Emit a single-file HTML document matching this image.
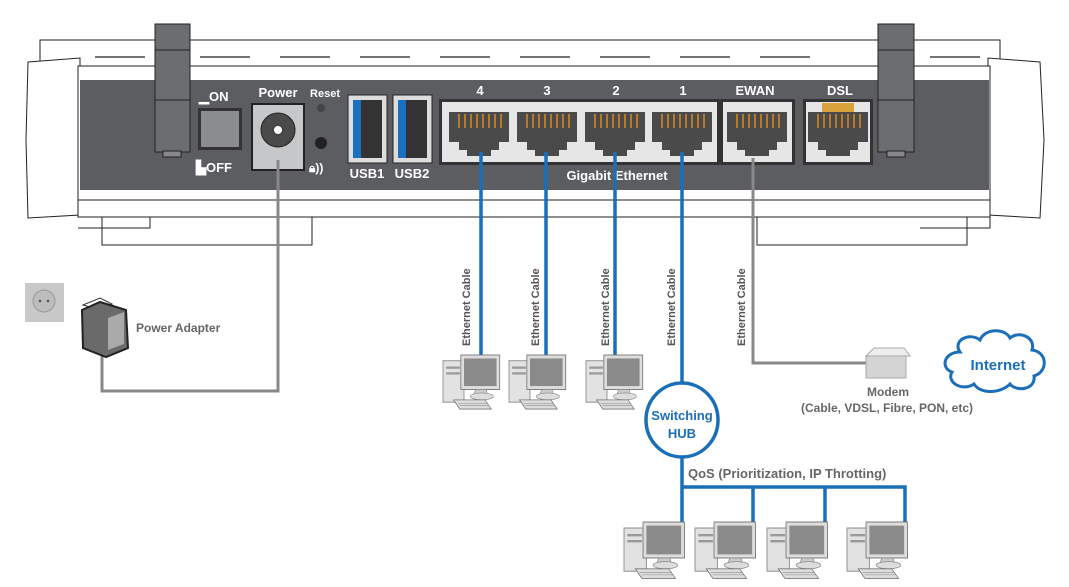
<!DOCTYPE html>
<html><head><meta charset="utf-8"><style>
html,body{margin:0;padding:0;background:#fff}
svg{display:block}
text{font-family:"Liberation Sans",Arial,sans-serif;font-weight:bold}
</style></head><body>
<svg width="1069" height="587" viewBox="0 0 1069 587" xmlns="http://www.w3.org/2000/svg">
<defs>
<g id="pc">
  <rect x="0" y="5" width="20" height="36" fill="#e2e2e2" stroke="#888" stroke-width="0.8"/>
  <rect x="3" y="10" width="13" height="2" fill="#999"/>
  <rect x="3" y="15" width="13" height="2" fill="#999"/>
  <rect x="17" y="0" width="37" height="30" fill="#ddd" stroke="#777" stroke-width="0.8"/>
  <rect x="20" y="3" width="31" height="24" fill="#8a8a8a"/>
  <path d="M31 30 L41 30 L43 36 L29 36 Z" fill="#ccc" stroke="#888" stroke-width="0.6"/>
  <ellipse cx="37" cy="36" rx="11" ry="3" fill="#ddd" stroke="#888" stroke-width="0.6"/>
  <path d="M10 39 L40 39 L46 47 L16 47 Z" fill="#ddd" stroke="#777" stroke-width="0.7"/>
  <path d="M14 42 L42 42 M16 44 L44 44" stroke="#999" stroke-width="0.6"/>
</g>
<g id="rj">
  <path d="M0 0 H60 V30 H50 V38 H42 V44 H18 V38 H10 V30 H0 Z" fill="#4a4a4a"/>
  <g fill="#b57a2e">
    <rect x="9" y="2" width="2" height="14"/><rect x="15" y="2" width="2" height="14"/>
    <rect x="21" y="2" width="2" height="14"/><rect x="27" y="2" width="2" height="14"/>
    <rect x="33" y="2" width="2" height="14"/><rect x="39" y="2" width="2" height="14"/>
    <rect x="45" y="2" width="2" height="14"/><rect x="51" y="2" width="2" height="14"/>
  </g>
</g>
</defs>

<!-- router body -->
<g fill="none" stroke="#222" stroke-width="1">
  <rect x="40" y="40" width="960" height="28" fill="#fff"/>
  <path d="M28 62 L80 58 L80 215 L28 218 L26 140 Z" fill="#fff"/>
  <path d="M1040 62 L988 58 L988 215 L1040 218 L1044 140 Z" fill="#fff"/>
  <rect x="78" y="66" width="912" height="151" fill="#fff"/>
  <path d="M78 200 H990"/>
  <rect x="102" y="217" width="210" height="28" fill="#fff"/>
  <rect x="757" y="217" width="210" height="28" fill="#fff"/>
  <path d="M78 217 H150 V228 H78 M920 217 H990 V228 H920"/>
  <path d="M95 57 h50 M200 57 h50 M280 57 h50 M360 57 h50 M440 57 h50 M520 57 h50 M600 57 h50 M680 57 h50 M760 57 h50 M930 57 h50" stroke-width="1.2"/>
</g>
<rect x="80" y="80" width="909" height="110" fill="#5b5d60"/>

<!-- antennas -->
<rect x="155" y="24" width="35" height="128" fill="#6b6d70" stroke="#222"/>
<path d="M155 50 H190 M155 100 H190" stroke="#222"/>
<rect x="163" y="151" width="18" height="6" fill="#888" stroke="#222"/>
<rect x="878" y="24" width="36" height="128" fill="#6b6d70" stroke="#222"/>
<path d="M878 50 H914 M878 100 H914" stroke="#222"/>
<rect x="887" y="151" width="18" height="6" fill="#888" stroke="#222"/>

<!-- switch -->
<text x="199" y="101" fill="#fff" font-size="13">▁ON</text>
<rect x="198" y="108" width="44" height="42" fill="#333"/>
<rect x="201" y="111" width="38" height="36" fill="#8a8c8f"/>
<text x="196" y="172" fill="#fff" font-size="13">▙OFF</text>
<!-- power -->
<text x="278" y="97" fill="#fff" font-size="13" text-anchor="middle">Power</text>
<rect x="252" y="104" width="52" height="66" fill="#c6c7c9" stroke="#222" stroke-width="2"/>
<circle cx="278" cy="130" r="17" fill="#4a4a4a" stroke="#222"/>
<circle cx="278" cy="130" r="5" fill="#fff" stroke="#444" stroke-width="2"/>
<text x="325" y="97" fill="#fff" font-size="11" text-anchor="middle">Reset</text>
<circle cx="321" cy="108" r="4" fill="#444"/>
<circle cx="321" cy="143" r="6" fill="#222"/>
<text x="309" y="172" fill="#fff" font-size="12">🔒︎))</text>
<!-- USB -->
<rect x="348" y="95" width="39" height="68" fill="#ddd" stroke="#222"/>
<rect x="353" y="100" width="29" height="58" fill="#333"/><rect x="353" y="100" width="8" height="58" fill="#1a6fc0"/>
<rect x="393" y="95" width="39" height="68" fill="#ddd" stroke="#222"/>
<rect x="398" y="100" width="29" height="58" fill="#333"/><rect x="398" y="100" width="8" height="58" fill="#1a6fc0"/>
<text x="367" y="178" fill="#fff" font-size="13" text-anchor="middle">USB1</text>
<text x="412" y="178" fill="#fff" font-size="13" text-anchor="middle">USB2</text>
<!-- Ethernet -->
<rect x="439" y="99" width="281" height="66" fill="#333"/>
<rect x="442" y="102" width="275" height="60" fill="#e6e6e6"/>
<use href="#rj" x="449" y="112"/><use href="#rj" x="517" y="112"/><use href="#rj" x="585" y="112"/><use href="#rj" x="652" y="112"/>
<rect x="720" y="99" width="75" height="66" fill="#333"/>
<rect x="723" y="102" width="69" height="60" fill="#e6e6e6"/>
<use href="#rj" x="727" y="112"/>
<rect x="803" y="99" width="70" height="66" fill="#333"/>
<rect x="806" y="102" width="64" height="60" fill="#e6e6e6"/>
<rect x="822" y="103" width="32" height="10" fill="#d9a23a"/>
<use href="#rj" x="808" y="112"/>
<g fill="#fff" font-size="13" text-anchor="middle">
<text x="480" y="95">4</text><text x="547" y="95">3</text><text x="616" y="95">2</text><text x="683" y="95">1</text>
<text x="755" y="95">EWAN</text><text x="840" y="95">DSL</text>
<text x="617" y="180">Gigabit Ethernet</text>
</g>

<!-- cables -->
<g stroke="#1a6fb8" stroke-width="3.5" fill="none">
  <path d="M481 152 V357 M546 152 V357 M615 152 V357 M682 152 V384"/>
  <path d="M682 456 V525 M682 487 H905 V525 M753 487 V525 M825 487 V525"/>
</g>
<ellipse cx="682" cy="420" rx="36" ry="37" fill="#fff" stroke="#1a6fb8" stroke-width="3.5"/>
<text x="682" y="420" fill="#1a6fb8" font-size="13" text-anchor="middle">Switching</text>
<text x="682" y="438" fill="#1a6fb8" font-size="13" text-anchor="middle">HUB</text>
<path d="M753 158 V363 H868" stroke="#888" stroke-width="3" fill="none"/>
<path d="M278 160 V391 H102 V355" stroke="#888" stroke-width="3" fill="none"/>

<g fill="#555" font-size="11" font-weight="bold">
<text transform="translate(470,346) rotate(-90)">Ethernet Cable</text>
<text transform="translate(539,346) rotate(-90)">Ethernet Cable</text>
<text transform="translate(609,346) rotate(-90)">Ethernet Cable</text>
<text transform="translate(675,346) rotate(-90)">Ethernet Cable</text>
<text transform="translate(745,346) rotate(-90)">Ethernet Cable</text>
</g>

<use href="#pc" transform="translate(443,355) scale(1.05,1.15)"/>
<use href="#pc" transform="translate(509,355) scale(1.05,1.15)"/>
<use href="#pc" transform="translate(586,355) scale(1.05,1.15)"/>
<use href="#pc" transform="translate(624,522) scale(1.12,1.2)"/>
<use href="#pc" transform="translate(695,522) scale(1.12,1.2)"/>
<use href="#pc" transform="translate(767,522) scale(1.12,1.2)"/>
<use href="#pc" transform="translate(847,522) scale(1.12,1.2)"/>

<text x="688" y="478" fill="#666" font-size="13">QoS (Prioritization, IP Throtting)</text>

<!-- modem -->
<path d="M866 356 L874 348 L904 348 L910 356 Z" fill="#eee" stroke="#aaa"/>
<rect x="866" y="356" width="40" height="22" fill="#d4d4d4" stroke="#aaa"/>
<text x="888" y="396" fill="#666" font-size="12" text-anchor="middle">Modem</text>
<text x="887" y="412" fill="#666" font-size="12" text-anchor="middle">(Cable, VDSL, Fibre, PON, etc)</text>

<!-- cloud -->
<path d="M960 352 C952 340 970 332 980 340 C985 328 1005 328 1010 338 C1020 330 1036 338 1032 350 C1048 352 1048 372 1034 376 C1036 390 1016 392 1010 384 C1000 394 980 394 974 384 C962 392 946 382 952 372 C940 368 944 352 960 352 Z" fill="#fff" stroke="#1a6fb8" stroke-width="3"/>
<text x="998" y="370" fill="#1a6fb8" font-size="15" text-anchor="middle">Internet</text>

<!-- outlet & adapter -->
<rect x="25" y="283" width="39" height="39" fill="#c8c8c8"/>
<circle cx="44" cy="301" r="11" fill="#bdbdbd" stroke="#999"/>
<circle cx="40" cy="301" r="1.3" fill="#555"/><circle cx="48" cy="301" r="1.3" fill="#555"/>
<path d="M83 305 L100 298 L112 304 L100 310 Z" fill="#fff" stroke="#333"/>
<path d="M82 310 L100 302 L126 310 L128 348 L106 357 L83 348 Z" fill="#6a6a6a" stroke="#222" stroke-width="2"/>
<path d="M108 318 L124 312 L124 344 L108 350 Z" fill="#aaa"/>
<text x="136" y="332" fill="#666" font-size="12">Power Adapter</text>
</svg>
</body></html>
